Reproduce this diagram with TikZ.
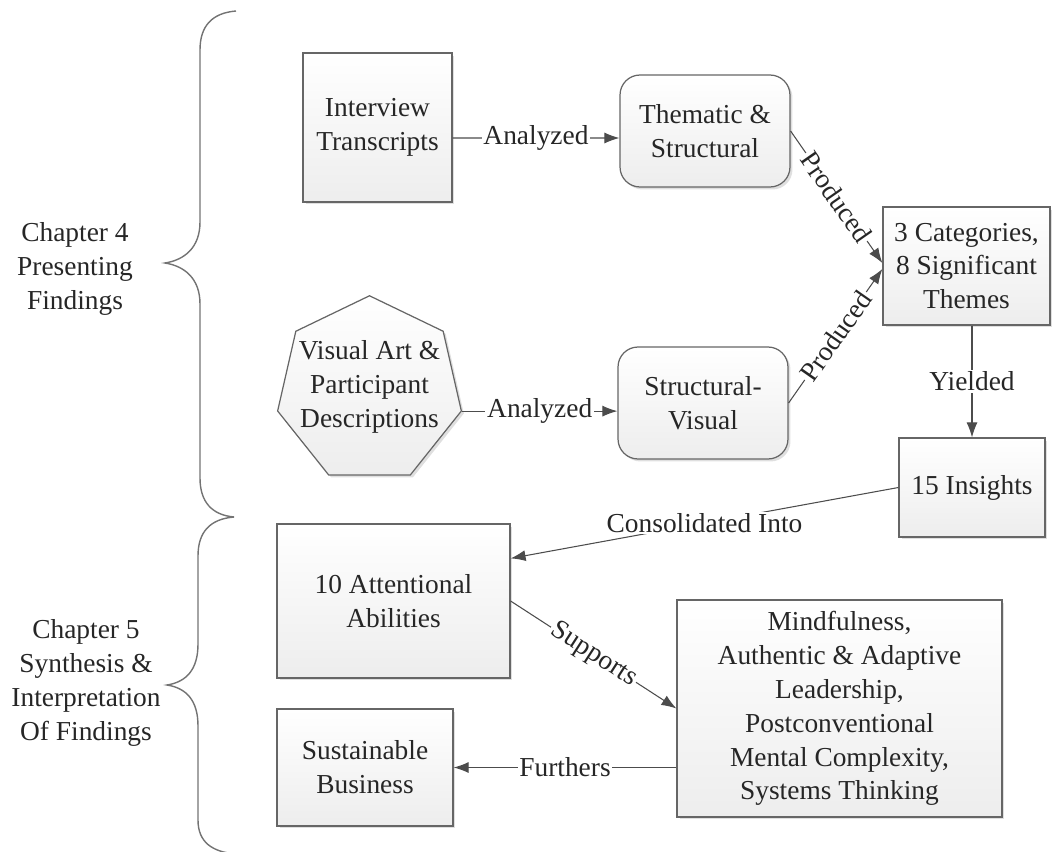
\documentclass[tikz,border=0pt]{standalone}
\usepackage{fontspec}
\setmainfont{Liberation Serif}
\usetikzlibrary{shapes.geometric,shadows,arrows.meta}

\begin{document}
\begin{tikzpicture}[x=0.02cm, y=-0.02cm,
    every node/.style={font=\fontsize{15.6}{19.3}\selectfont, text=black!85},
    box/.style={draw=black!60, line width=0.7pt, top color=white, bottom color=gray!14,
        align=center, inner sep=2pt,
        drop shadow={shadow xshift=0.05cm, shadow yshift=-0.05cm, opacity=0.25}},
    rbox/.style={box, rounded corners=0.4cm},
    conn/.style={draw=black!70, line width=0.6pt, -{Latex[length=0.3cm,width=0.22cm]}},
    lbl/.style={fill=white, inner sep=1pt},
    bracestyle/.style={draw=black!55, line width=0.8pt}]
    \useasboundingbox (0,0) rectangle (1052,852);

    % Chapters
    \node[align=center] (ch4) at (75,269) {Chapter 4\\Presenting\\Findings};
    \node[align=center] (ch5) at (86,683) {Chapter 5\\Synthesis \&\\Interpretation\\Of Findings};

    % Braces
    \draw[bracestyle] (236,11) .. controls (212,13) and (200,26) .. (200,50) -- (200,222)
        .. controls (200,248) and (184,260) .. (165,263)
        .. controls (184,266) and (200,278) .. (200,304) -- (200,478)
        .. controls (200,502) and (212,515) .. (234,517);
    \draw[bracestyle] (234,517) .. controls (210,519) and (198,532) .. (198,556) -- (198,644)
        .. controls (198,670) and (186,682) .. (167,685)
        .. controls (186,688) and (198,700) .. (198,726) -- (198,820)
        .. controls (198,842) and (212,852) .. (236,854);

    % Chapter 4 boxes
    \node[box, minimum width=2.98cm, minimum height=2.98cm] (int) at (377.5,127.5) {Interview\\Transcripts};
    \node[rbox, minimum width=3.4cm, minimum height=2.24cm] (thm) at (705,131) {Thematic \&\\Structural};
    \node[box, regular polygon, regular polygon sides=7, minimum size=3.77cm, inner sep=0pt] (hep) at (369.5,390) {};
    \node[align=center, inner sep=0pt] (heptxt) at ([yshift=0.06cm]hep.center) {Visual Art \&\\Participant\\Descriptions};
    \node[rbox, minimum width=3.4cm, minimum height=2.24cm] (sv) at (703,403) {Structural-\\Visual};
    \node[box, minimum width=3.34cm, minimum height=2.36cm] (cat) at (966.5,266) {3 Categories,\\8 Significant\\Themes};
    \node[box, minimum width=2.92cm, minimum height=1.98cm] (ins) at (972,487.5) {15 Insights};

    % Chapter 5 boxes
    \node[box, minimum width=4.66cm, minimum height=3.08cm] (att) at (393.5,601) {10 Attentional\\Abilities};
    \node[box, minimum width=6.5cm, minimum height=4.34cm] (mind) at (839.5,708.5) {Mindfulness,\\Authentic \& Adaptive\\Leadership,\\Postconventional\\Mental Complexity,\\Systems Thinking};
    \node[box, minimum width=3.52cm, minimum height=2.34cm] (sus) at (365,767.5) {Sustainable\\Business};

    % Connectors
    \draw[conn] ([yshift=-0.21cm]int.east) -- node[lbl] {Analyzed} ([yshift=-0.14cm]thm.west);
    \draw[conn] (hep.corner 6) -- node[lbl] {Analyzed} (sv.west |- hep.corner 6);
    \draw[conn] (thm.east) -- node[lbl, sloped] {Produced} (cat.178);
    \draw[conn] (sv.east) -- node[lbl, sloped] {Produced} (cat.182);
    \draw[conn] (ins.north |- cat.south) -- node[lbl] {Yielded} (ins.north);
    \draw[conn] (ins.west) -- node[lbl] {Consolidated Into} (att.20);
    \draw[conn] (att.east) -- node[lbl, sloped] {Supports} (mind.west);
    \draw[conn] (mind.west |- sus.east) -- node[lbl] {Furthers} (sus.east);
\end{tikzpicture}
\end{document}
